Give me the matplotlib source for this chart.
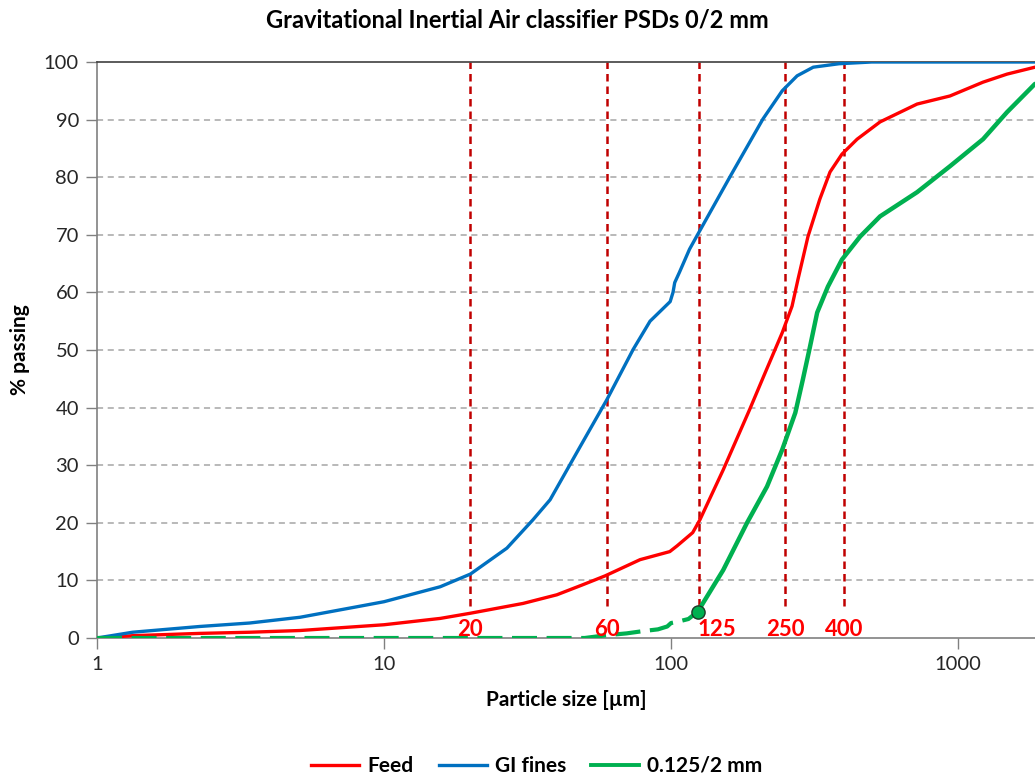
import matplotlib
matplotlib.use("Agg")
import matplotlib.pyplot as plt
from matplotlib.lines import Line2D

plt.rcParams['font.family'] = ['Lato', 'DejaVu Sans']

# ---- data ----
feed_x = [1, 1.33, 2.28, 3.4, 5.1, 10, 15.7, 20, 30.5, 40, 49, 59, 78, 99, 105, 119, 126,
          152, 188, 213, 244, 264, 277, 300, 330, 358, 394, 445, 535, 720, 937, 1222, 1482, 1854]
feed_y = [0, 0.4, 0.8, 1.0, 1.3, 2.3, 3.4, 4.3, 6.0, 7.5, 9.2, 10.8, 13.6, 15.0, 16.0, 18.3, 20.5,
          29.2, 39.7, 46.1, 53.0, 57.6, 62.3, 69.7, 76.2, 80.9, 84.0, 86.6, 89.6, 92.7, 94.1, 96.5, 97.9, 99.1]

gi_x = [1, 1.33, 2.28, 3.4, 5.1, 8, 10, 15.7, 20, 26.8, 33, 37.9, 48.2, 59.8, 73.8, 84.5, 99.3,
        101.6, 103, 107, 116, 124, 161, 209, 244, 275, 313, 385, 500, 1000, 1854]
gi_y = [0, 1.0, 2.0, 2.6, 3.6, 5.4, 6.3, 8.9, 11.1, 15.6, 20.5, 24, 33.2, 41.4, 50.1, 55, 58.4,
        60, 61.7, 63.5, 67.5, 70.1, 80.2, 90.1, 95, 97.6, 99.1, 99.7, 100, 100, 100]

coarse_dash_x = [1, 50, 60, 70, 80, 90, 97, 100, 105, 115, 124]
coarse_dash_y = [0, 0, 0.5, 0.8, 1.2, 1.5, 2.0, 2.6, 2.8, 3.3, 4.6]
coarse_x = [124, 152, 184, 216, 244, 271, 288, 305, 323, 352, 394, 456, 535, 720, 937, 1222, 1482, 1854]
coarse_y = [4.6, 11.8, 20.0, 26.3, 32.7, 39.1, 44.9, 50.6, 56.5, 61.0, 65.7, 69.7, 73.2, 77.4,
            81.9, 86.6, 91.3, 96.2]

marker_x = [124]
marker_y = [4.6]

cut_sizes = [20, 60, 125, 250, 400]
cut_labels = ["20", "60", "125", "250", "400"]

series_names = ["Feed", "GI fines", "0.125/2 mm"]
yticks = [0, 10, 20, 30, 40, 50, 60, 70, 80, 90, 100]
xticks = [1, 10, 100, 1000]
xtick_labels = ["1", "10", "100", "1000"]

RED = '#FF0000'
BLUE = '#0070C0'
GREEN = '#00B050'
DARKRED = '#C00000'

fig = plt.figure(figsize=(10.35, 7.78), dpi=100)
ax = fig.add_axes([97/1035, 1-638/778, 1-97/1035, (638-62)/778])

ax.set_xscale('log')
ax.set_xlim(1, 1854)
ax.set_ylim(0, 100)

for yv in yticks[1:-1]:
    ax.axhline(yv, color='#A6A6A6', lw=1.1, ls=(0, (4, 3)), zorder=1)

for c in cut_sizes:
    ax.plot([c, c], [5.5, 100], color=DARKRED, lw=1.8, ls=(0, (3, 2)), zorder=2)

kw = dict(solid_capstyle='round', solid_joinstyle='round', zorder=4)
ax.plot(feed_x, feed_y, color=RED, lw=2.4, **kw)
ax.plot(gi_x, gi_y, color=BLUE, lw=2.4, **kw)
ax.plot(coarse_dash_x, coarse_dash_y, color=GREEN, lw=3.0, ls=(0, (6, 2.3)), zorder=4)
ax.plot(coarse_x, coarse_y, color=GREEN, lw=3.2, **kw)
ax.plot(marker_x, marker_y, 'o', ms=9.5, mfc=GREEN, mec='#1E3A28', mew=1.0, zorder=6)

for c, lab in zip(cut_sizes, cut_labels):
    if lab == "125":
        ax.text(c * 0.99, 1.4, lab, color=RED, fontsize=16, fontweight='bold',
                ha='left', va='center', zorder=7)
    else:
        ax.text(c, 1.4, lab, color=RED, fontsize=16, fontweight='bold',
                ha='center', va='center', zorder=7)

ax.set_xticks(xticks)
ax.set_xticklabels(xtick_labels)
ax.xaxis.set_minor_locator(matplotlib.ticker.NullLocator())
ax.set_yticks(yticks)
ax.tick_params(axis='both', direction='out', length=8, width=1, color='#808080',
               labelsize=14.5, labelcolor='#262626', pad=5)

for s in ['left', 'bottom']:
    ax.spines[s].set_color('#808080')
    ax.spines[s].set_linewidth(1.2)
ax.spines['top'].set_color('#404040')
ax.spines['top'].set_linewidth(1.2)
ax.spines['right'].set_visible(False)

ax.set_xlabel('Particle size [µm]', fontsize=15, fontweight='bold', labelpad=12)
ax.set_ylabel('% passing', fontsize=15, fontweight='bold', labelpad=10)
fig.text(0.5, 1-20/778, 'Gravitational Inertial Air classifier PSDs 0/2 mm',
         ha='center', va='center', fontsize=17, fontweight='bold')

handles = [Line2D([], [], color=RED, lw=2.4),
           Line2D([], [], color=BLUE, lw=2.4),
           Line2D([], [], color=GREEN, lw=2.8)]
leg = fig.legend(handles, series_names, loc='center', bbox_to_anchor=(537/1035, 1-766/778),
                 ncol=3, frameon=False, handlelength=2.3, columnspacing=1.2, handletextpad=0.4,
                 prop={'weight': 'bold', 'size': 15})

fig.savefig('out.png', dpi=100)
